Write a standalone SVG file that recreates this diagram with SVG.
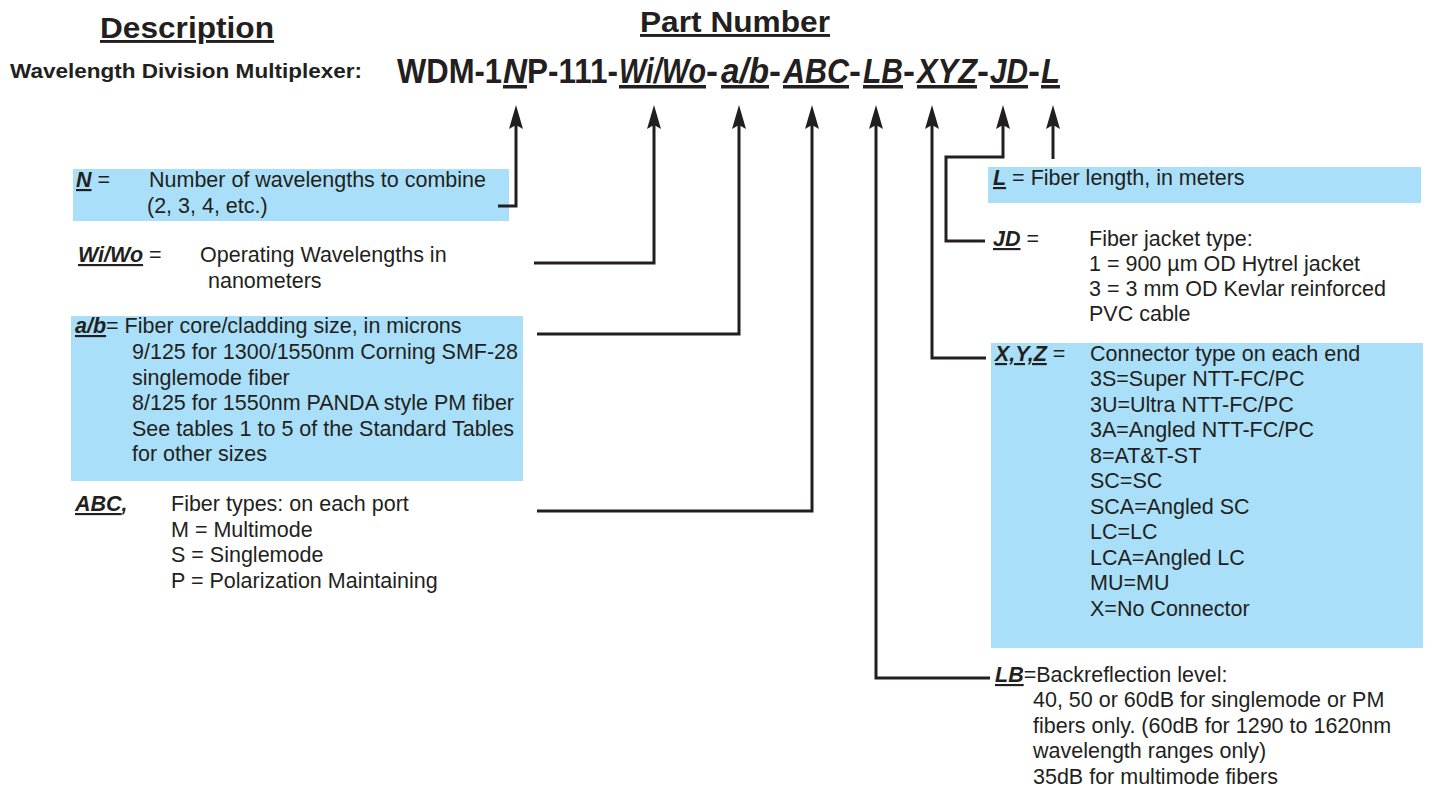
<svg xmlns="http://www.w3.org/2000/svg" width="1429" height="788" viewBox="0 0 1429 788">
<style>
text{font-family:"Liberation Sans",Arial,sans-serif;fill:#231f20;font-size:21.5px}
.h{font-weight:bold;text-decoration:underline;font-size:29px}
.b{font-weight:bold}
.p{font-weight:bold;font-size:35px}
.pk{font-weight:bold;font-size:35px;font-style:italic;text-decoration:underline}
.k{font-weight:bold;font-style:italic;text-decoration:underline}
.ki{font-weight:bold;font-style:italic}
.box{fill:#a9dff8}
.c{fill:none;stroke:#231f20;stroke-width:3}
</style>
<defs>
<marker id="ah" viewBox="0 0 24 14" refX="9" refY="7" markerWidth="24" markerHeight="14" markerUnits="userSpaceOnUse" orient="auto">
<path d="M0,0 L24,7 L0,14 L4,7 z" fill="#231f20"/>
</marker>
</defs>
<rect width="1429" height="788" fill="#fff"/>

<g id="header">
<text class="h" x="100" y="38" textLength="174" lengthAdjust="spacingAndGlyphs">Description</text>
<text class="h" x="640" y="32" textLength="190" lengthAdjust="spacingAndGlyphs">Part Number</text>
<text class="b" x="10" y="78" style="font-size:21px" textLength="352" lengthAdjust="spacingAndGlyphs">Wavelength Division Multiplexer:</text>
</g>

<g id="part-number">
<text class="p" x="397" y="83" textLength="105" lengthAdjust="spacingAndGlyphs">WDM-1</text>
<text class="pk" x="503" y="83" textLength="24" lengthAdjust="spacingAndGlyphs">N</text>
<text class="p" x="527" y="83" textLength="91" lengthAdjust="spacingAndGlyphs">P-111-</text>
<text class="pk" x="619" y="83" textLength="87" lengthAdjust="spacingAndGlyphs">Wi/Wo</text>
<text class="p" x="706" y="83" textLength="12" lengthAdjust="spacingAndGlyphs">-</text>
<text class="pk" x="721" y="83" textLength="48" lengthAdjust="spacingAndGlyphs">a/b</text>
<text class="p" x="769" y="83" textLength="12" lengthAdjust="spacingAndGlyphs">-</text>
<text class="pk" x="783" y="83" textLength="66" lengthAdjust="spacingAndGlyphs">ABC</text>
<text class="p" x="849" y="83" textLength="12" lengthAdjust="spacingAndGlyphs">-</text>
<text class="pk" x="863" y="83" textLength="40" lengthAdjust="spacingAndGlyphs">LB</text>
<text class="p" x="903" y="83" textLength="12" lengthAdjust="spacingAndGlyphs">-</text>
<text class="pk" x="917" y="83" textLength="60" lengthAdjust="spacingAndGlyphs">XYZ</text>
<text class="p" x="977" y="83" textLength="12" lengthAdjust="spacingAndGlyphs">-</text>
<text class="pk" x="990" y="83" textLength="38" lengthAdjust="spacingAndGlyphs">JD</text>
<text class="p" x="1028" y="83" textLength="12" lengthAdjust="spacingAndGlyphs">-</text>
<text class="pk" x="1041" y="83" textLength="19" lengthAdjust="spacingAndGlyphs">L</text>
</g>

<g id="node-N">
<rect class="box" x="73" y="169" width="436" height="52"/>
<text x="76" y="187"><tspan class="k">N</tspan> =</text>
<text x="149" y="187">Number of wavelengths to combine</text>
<text x="147" y="213">(2, 3, 4, etc.)</text>
</g>

<g id="node-WiWo">
<text x="78" y="262"><tspan class="k">Wi/Wo</tspan> =</text>
<text x="200" y="262">Operating Wavelengths in</text>
<text x="208" y="288">nanometers</text>
</g>

<g id="node-ab">
<rect class="box" x="71" y="316" width="452" height="165"/>
<text x="75" y="333"><tspan class="k">a/b</tspan>= Fiber core/cladding size, in microns</text>
<text x="132" y="359">9/125 for 1300/1550nm Corning SMF-28</text>
<text x="132" y="385">singlemode fiber</text>
<text x="132" y="410">8/125 for 1550nm PANDA style PM fiber</text>
<text x="132" y="436">See tables 1 to 5 of the Standard Tables</text>
<text x="132" y="461">for other sizes</text>
</g>

<g id="node-ABC">
<text x="75" y="511"><tspan class="k">ABC</tspan><tspan class="ki">,</tspan></text>
<text x="171" y="511">Fiber types: on each port</text>
<text x="171" y="537">M = Multimode</text>
<text x="171" y="562">S = Singlemode</text>
<text x="171" y="588">P = Polarization Maintaining</text>
</g>

<g id="node-L">
<rect class="box" x="988" y="167" width="433" height="36"/>
<text x="993" y="185"><tspan class="k">L</tspan> = Fiber length, in meters</text>
</g>

<g id="node-JD">
<text x="993" y="246"><tspan class="k">JD</tspan> =</text>
<text x="1089" y="246">Fiber jacket type:</text>
<text x="1089" y="271">1 = 900 µm OD Hytrel jacket</text>
<text x="1089" y="296">3 = 3 mm OD Kevlar reinforced</text>
<text x="1089" y="321">PVC cable</text>
</g>

<g id="node-XYZ">
<rect class="box" x="991" y="343" width="432" height="305"/>
<text x="995" y="361"><tspan class="k">X,Y,Z</tspan> =</text>
<text x="1090" y="361">Connector type on each end</text>
<text x="1090" y="386">3S=Super NTT-FC/PC</text>
<text x="1090" y="412">3U=Ultra NTT-FC/PC</text>
<text x="1090" y="437">3A=Angled NTT-FC/PC</text>
<text x="1090" y="463">8=AT&amp;T-ST</text>
<text x="1090" y="488">SC=SC</text>
<text x="1090" y="514">SCA=Angled SC</text>
<text x="1090" y="539">LC=LC</text>
<text x="1090" y="565">LCA=Angled LC</text>
<text x="1090" y="590">MU=MU</text>
<text x="1090" y="616">X=No Connector</text>
</g>

<g id="node-LB">
<text x="995" y="682"><tspan class="k">LB</tspan>=Backreflection level:</text>
<text x="1033" y="707">40, 50 or 60dB for singlemode or PM</text>
<text x="1033" y="733">fibers only. (60dB for 1290 to 1620nm</text>
<text x="1033" y="758">wavelength ranges only)</text>
<text x="1033" y="784">35dB for multimode fibers</text>
</g>

<g id="connectors">
<path class="c" d="M498,206 H516 V120" marker-end="url(#ah)"/>
<path class="c" d="M534,263 H654 V120" marker-end="url(#ah)"/>
<path class="c" d="M537,334 H739 V120" marker-end="url(#ah)"/>
<path class="c" d="M537,511 H812 V120" marker-end="url(#ah)"/>
<path class="c" d="M990,678 H876 V120" marker-end="url(#ah)"/>
<path class="c" d="M986,358 H932 V120" marker-end="url(#ah)"/>
<path class="c" d="M985,241 H946 V157 H1003 V120" marker-end="url(#ah)"/>
<path class="c" d="M1053,159 V120" marker-end="url(#ah)"/>
</g>
</svg>
